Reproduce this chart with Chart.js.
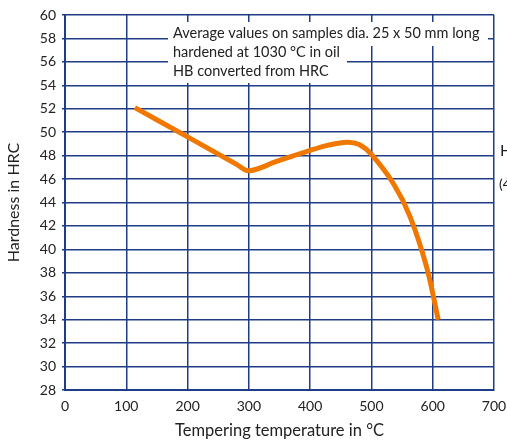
<!DOCTYPE html>
<html>
<head>
<meta charset="utf-8">
<script src="https://cdn.jsdelivr.net/npm/chart.js@4/dist/chart.umd.min.js"></script>
<style>
html,body{margin:0;padding:0;background:#fff;}
#wrap{width:507px;height:445px;position:relative;}
</style>
</head>
<body>
<div id="wrap"><canvas id="c" width="507" height="445"></canvas></div>
<script>
const temperatures = [114, 200, 280, 300, 345, 400, 430, 460, 480, 500, 536, 563, 590, 609];
const hardnessHRC  = [52.1, 49.6, 47.25, 46.7, 47.5, 48.45, 48.9, 49.15, 48.95, 48.1, 45.6, 42.8, 38.5, 34.0];
const noteLines = ["Average values on samples dia. 25 x 50 mm long", "hardened at 1030 °C in oil", "HB converted from HRC"];
const xTitle = "Tempering temperature in °C";
const yTitle = "Hardness in HRC";
const rightTitle = ["HB", "(400"];

const FONT = "Lato, 'Open Sans', sans-serif";
const GRID = "#1f3d86";

const notePlugin = {
  id: 'notes',
  afterDatasetsDraw(chart) {
    const ctx = chart.ctx;
    ctx.save();
    ctx.fillStyle = '#fff';
    const x0 = 168;
    ctx.fillRect(x0, 22, 488 - x0, 24);
    ctx.fillRect(x0, 46, 347 - x0, 37);
    ctx.fillStyle = '#222';
    ctx.font = "14.5px " + FONT;
    ctx.textBaseline = 'middle';
    ctx.textAlign = 'left';
    noteLines.forEach((t, i) => ctx.fillText(t, 173, 33 + i * 19));
    ctx.font = "16px " + FONT;
    ctx.fillText(rightTitle[0], 500, 151);
    ctx.font = "14px " + FONT;
    ctx.fillText(rightTitle[1], 499, 184);
    ctx.restore();
  }
};

new Chart(document.getElementById('c'), {
  type: 'line',
  data: {
    datasets: [{
      data: temperatures.map((t, i) => ({x: t, y: hardnessHRC[i]})),
      borderColor: '#f07800',
      borderWidth: 5,
      pointRadius: 0,
      fill: false,
      tension: 0.35,
      borderCapStyle: 'butt',
      borderJoinStyle: 'round'
    }]
  },
  options: {
    responsive: false,
    animation: false,
    events: [],
    layout: {padding: {left: 0, right: 13, top: 15, bottom: 0}},
    plugins: {legend: {display: false}, tooltip: {enabled: false}},
    scales: {
      x: {
        type: 'linear', min: 0, max: 700,
        ticks: {stepSize: 100, color: '#222', font: {family: FONT, size: 14}, padding: 8},
        grid: {color: GRID, lineWidth: 1.5, drawTicks: false},
        border: {color: GRID, width: 2},
        title: {display: true, text: xTitle, color: '#222', font: {family: FONT, size: 16.5}, padding: {top: 4}},
        afterFit(s) { s.height = 55; s.paddingRight = 0; s.paddingLeft = 0; }
      },
      y: {
        min: 28, max: 60,
        ticks: {stepSize: 2, color: '#222', font: {family: FONT, size: 14}, padding: 6},
        grid: {color: GRID, lineWidth: 1.5, tickLength: 3},
        border: {color: GRID, width: 2},
        title: {display: true, text: yTitle, color: '#222', font: {family: FONT, size: 16}, padding: {bottom: 2}},
        afterFit(s) { s.width = 65; s.paddingTop = 0; s.paddingBottom = 0; }
      }
    }
  },
  plugins: [notePlugin]
});
</script>
</body>
</html>
